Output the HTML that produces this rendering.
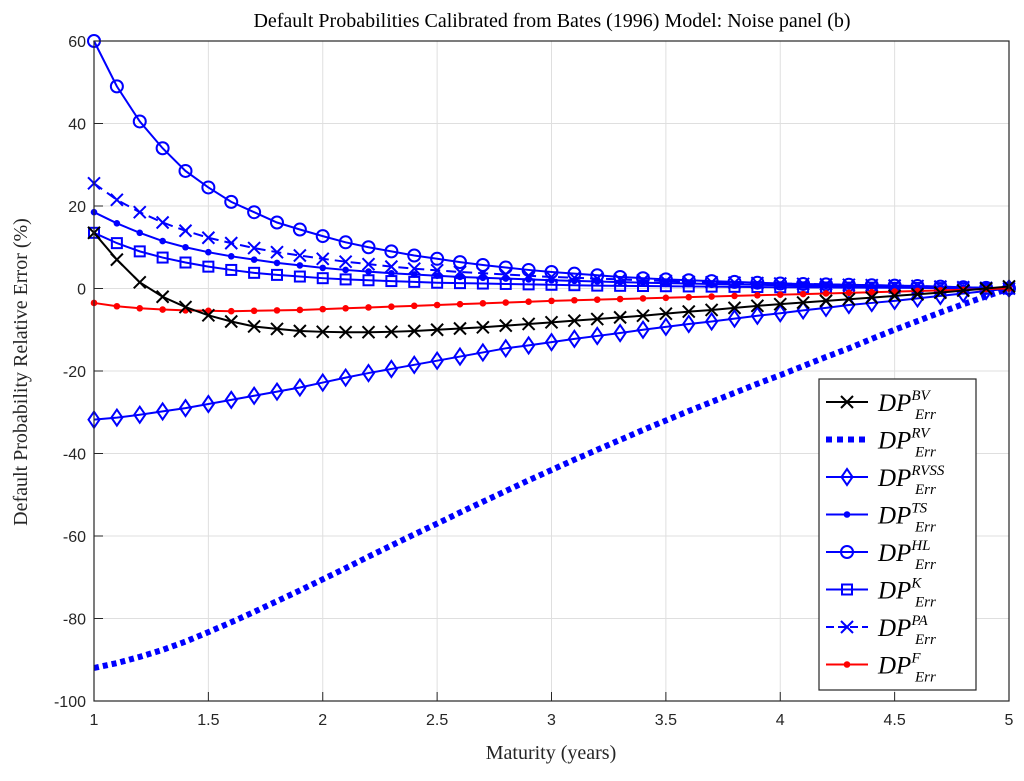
<!DOCTYPE html>
<html><head><meta charset="utf-8"><style>
body{margin:0;background:#fff}
svg text{font-family:"Liberation Serif",serif}
.tk{font-family:"Liberation Sans",sans-serif;font-size:16px;fill:#262626}
</style></head><body>
<svg id="chart" width="1024" height="776" xmlns="http://www.w3.org/2000/svg">
<rect width="1024" height="776" fill="#fff"/>
<g id="grid"></g>
<g id="series"></g>
<g id="axes"></g>
<text x="552" y="27" text-anchor="middle" font-size="20" fill="#000">Default Probabilities Calibrated from Bates (1996) Model: Noise panel (b)</text>
<text x="551" y="759" text-anchor="middle" font-size="20" fill="#262626">Maturity (years)</text>
<text transform="translate(27,372) rotate(-90)" text-anchor="middle" font-size="20" fill="#262626">Default Probability Relative Error (%)</text>
<g id="legend"></g>
</svg>
<script>
const xs=[1,1.1,1.2,1.3,1.4,1.5,1.6,1.7,1.8,1.9,2,2.1,2.2,2.3,2.4,2.5,2.6,2.7,2.8,2.9,3,3.1,3.2,3.3,3.4,3.5,3.6,3.7,3.8,3.9,4,4.1,4.2,4.3,4.4,4.5,4.6,4.7,4.8,4.9,5];
const xTicks=[1,1.5,2,2.5,3,3.5,4,4.5,5];
const yTicks=[60,40,20,0,-20,-40,-60,-80,-100];
const bv=[13.5,7,1.5,-2,-4.5,-6.5,-8,-9.2,-9.8,-10.3,-10.5,-10.6,-10.6,-10.5,-10.3,-10,-9.7,-9.4,-9,-8.6,-8.2,-7.8,-7.4,-7,-6.6,-6.1,-5.6,-5.2,-4.7,-4.2,-3.8,-3.4,-3,-2.6,-2.2,-1.8,-1.4,-1,-0.5,0,0.5];
const rv=[-92,-90.8,-89.3,-87.6,-85.6,-83.3,-80.9,-78.4,-75.8,-73.2,-70.5,-67.8,-65,-62.3,-59.6,-57,-54.3,-51.7,-49.1,-46.5,-44,-41.5,-39.1,-36.7,-34.3,-32,-29.7,-27.5,-25.3,-23.1,-21,-18.8,-16.6,-14.5,-12.2,-10,-7.9,-5.8,-3.8,-1.9,0];
const rvss=[-31.8,-31.3,-30.6,-29.8,-29,-28,-27,-26,-25,-24,-22.8,-21.6,-20.5,-19.5,-18.5,-17.5,-16.5,-15.5,-14.5,-13.8,-13,-12.2,-11.5,-10.8,-10,-9.3,-8.6,-8,-7.3,-6.6,-6,-5.3,-4.7,-4,-3.5,-3,-2.4,-1.8,-1.2,-0.6,0];
const ts=[18.5,15.8,13.5,11.5,10,8.8,7.8,7,6.2,5.6,5,4.5,4.1,3.7,3.4,3.1,2.8,2.6,2.4,2.2,2,1.85,1.7,1.55,1.4,1.3,1.2,1.1,1,0.9,0.8,0.7,0.6,0.55,0.5,0.4,0.3,0.25,0.2,0.1,0];
const hl=[60,49,40.5,34,28.5,24.5,21,18.5,16,14.3,12.7,11.2,10,9,8,7.2,6.4,5.7,5.1,4.5,4,3.6,3.2,2.8,2.5,2.2,2,1.8,1.6,1.4,1.2,1.1,1,0.9,0.8,0.7,0.6,0.45,0.3,0.15,0];
const kk=[13.5,11,9,7.5,6.3,5.3,4.5,3.8,3.3,2.9,2.5,2.2,2,1.8,1.6,1.4,1.3,1.2,1.1,1,0.9,0.8,0.7,0.65,0.6,0.55,0.5,0.45,0.4,0.35,0.3,0.28,0.25,0.22,0.2,0.17,0.14,0.1,0.07,0.03,0];
const pa=[25.5,21.5,18.5,16,14,12.3,11,9.8,8.8,8,7.2,6.5,5.9,5.3,4.8,4.4,4,3.7,3.4,3.1,2.8,2.6,2.4,2.2,2,1.8,1.6,1.5,1.4,1.3,1.2,1.1,1,0.9,0.8,0.7,0.6,0.45,0.3,0.15,0];
const ff=[-3.5,-4.3,-4.8,-5.1,-5.3,-5.4,-5.5,-5.4,-5.3,-5.2,-5,-4.8,-4.6,-4.4,-4.2,-4,-3.8,-3.6,-3.4,-3.2,-3,-2.85,-2.7,-2.55,-2.4,-2.25,-2.1,-1.95,-1.8,-1.65,-1.5,-1.35,-1.2,-1.05,-0.9,-0.75,-0.6,-0.45,-0.3,-0.15,0];
const L=94,R=1009,T=41,B=701;
const X=v=>L+(v-1)/4*(R-L);
const Y=v=>T+(60-v)/160*(B-T);
const NS='http://www.w3.org/2000/svg';
function mk(tag,parent,attrs){const e=document.createElementNS(NS,tag);for(const k in attrs)e.setAttribute(k,attrs[k]);parent.appendChild(e);return e;}
const grid=document.getElementById('grid'),axes=document.getElementById('axes'),ser=document.getElementById('series'),leg=document.getElementById('legend');
xTicks.forEach(t=>{const l=mk('line',grid,{x1:X(t),x2:X(t),y1:T,y2:B,stroke:'#dfdfdf','stroke-width':1});


mk('line',axes,{x1:X(t),x2:X(t),y1:B,y2:B-9,stroke:'#262626'});
const tx=mk('text',axes,{x:X(t),y:B+24,'text-anchor':'middle',class:'tk'});tx.textContent=t;

});
yTicks.forEach(t=>{const l=mk('line',grid,{x1:L,x2:R,y1:Y(t),y2:Y(t),stroke:'#dfdfdf','stroke-width':1});


mk('line',axes,{x1:L,x2:L+9,y1:Y(t),y2:Y(t),stroke:'#262626'});
const tx=mk('text',axes,{x:L-8,y:Y(t)+6,'text-anchor':'end',class:'tk'});tx.textContent=t;

});
const fr=mk('rect',axes,{x:L,y:T,width:R-L,height:B-T,fill:'none',stroke:'#262626','stroke-width':1.2});


function marker(g,type,x,y,c){
 if(type==='x'){mk('path',g,{d:`M${x-6},${y-6}L${x+6},${y+6}M${x-6},${y+6}L${x+6},${y-6}`,stroke:c,'stroke-width':2,fill:'none'});}
 else if(type==='o'){mk('circle',g,{cx:x,cy:y,r:6,stroke:c,'stroke-width':2,fill:'none'});}
 else if(type==='d'){mk('path',g,{d:`M${x},${y-8}L${x+5.5},${y}L${x},${y+8}L${x-5.5},${y}Z`,stroke:c,'stroke-width':2,fill:'none'});}
 else if(type==='s'){mk('rect',g,{x:x-5,y:y-5,width:10,height:10,stroke:c,'stroke-width':2,fill:'none'});}
 else if(type==='.'){mk('circle',g,{cx:x,cy:y,r:3.3,fill:c});}
}
const S=[
 {n:'bv',d:bv,c:'#000',m:'x',dash:null,w:2,sup:'BV'},
 {n:'rv',d:rv,c:'#0000ff',m:null,dash:'5 4',w:6,sup:'RV'},
 {n:'rvss',d:rvss,c:'#0000ff',m:'d',dash:null,w:2,sup:'RVSS'},
 {n:'ts',d:ts,c:'#0000ff',m:'.',dash:null,w:2,sup:'TS'},
 {n:'hl',d:hl,c:'#0000ff',m:'o',dash:null,w:2,sup:'HL'},
 {n:'k',d:kk,c:'#0000ff',m:'s',dash:null,w:2,sup:'K'},
 {n:'pa',d:pa,c:'#0000ff',m:'x',dash:'10 6',w:2,sup:'PA'},
 {n:'f',d:ff,c:'#ff0000',m:'.',dash:null,w:2,sup:'F'}];
const order=['rv','rvss','ts','k','pa','hl','f','bv'];
order.forEach(nm=>{const s=S.find(q=>q.n===nm);
 const g=mk('g',ser,{});
 
 
 const pts=s.d.map((v,i)=>X(xs[i])+','+Y(v)).join(' ');
 const a={points:pts,fill:'none',stroke:s.c,'stroke-width':s.w};if(s.dash)a['stroke-dasharray']=s.dash;
 mk('polyline',g,a);
 if(s.m)s.d.forEach((v,i)=>marker(g,s.m,X(xs[i]),Y(v),s.c));
});
const lb=mk('rect',leg,{x:819,y:379,width:157,height:311,fill:'#fff',stroke:'#262626','stroke-width':1.2});


S.forEach((s,i)=>{const y=402+i*37.5;const g=mk('g',leg,{});
 
 
 const a={x1:826,x2:868,y1:y,y2:y,stroke:s.c,'stroke-width':s.w};if(s.dash)a['stroke-dasharray']=s.n==='rv'?'6 5':'8 4';
 mk('line',g,a);if(s.m)marker(g,s.m,847,y,s.c);
 const t=mk('text',g,{x:878,y:y+9,'font-size':25,'font-style':'italic',fill:'#000'});
 t.innerHTML='DP<tspan font-size="15" dy="-11">'+s.sup+'</tspan><tspan font-size="15" x="915" dy="19">Err</tspan>';
 t.setAttribute('x',878);
});
</script>
</body></html>
